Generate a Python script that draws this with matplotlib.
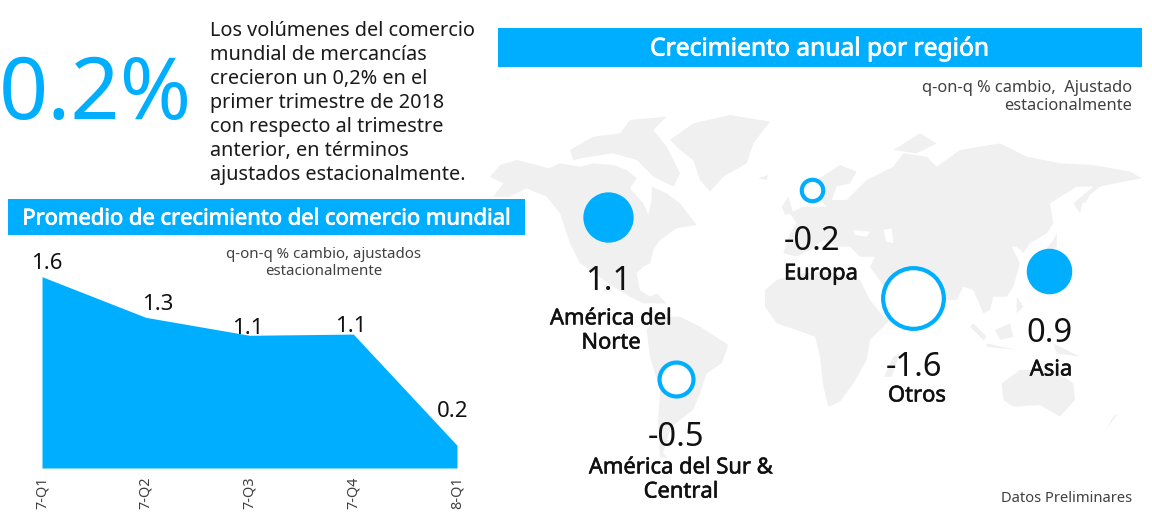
import matplotlib
matplotlib.use("Agg")
import matplotlib.pyplot as plt
import matplotlib.patheffects as pe
from matplotlib.patches import Polygon, Rectangle

plt.rcParams['font.family'] = ['Noto Sans', 'DejaVu Sans']

AZUL = '#00aeff'
GRIS_MAPA = '#f0f0f0'

# Serie trimestral
trimestres = ['7-Q1', '7-Q2', '7-Q3', '7-Q4', '8-Q1']
crecimiento = [1.6, 1.26, 1.11, 1.12, 0.19]
etiquetas = ['1.6', '1.3', '1.1', '1.1', '0.2']
desfase_etiquetas = [(5, 13), (12, 13), (-2, 7), (-2, 8), (-4, 34)]

# Regiones
regiones = ['América del\nNorte', 'Europa', 'Otros', 'Asia', 'América del Sur &\nCentral']
valores_region = [1.1, -0.2, -1.6, 0.9, -0.5]
x_region = [608, 812, 913, 1049, 676]
y_region = [217, 190, 298, 271, 379]
x_valor = [608, 812, 914, 1049, 676]
y_valor = [282, 242, 368, 334, 437]
x_nombre = [611, 821, 917, 1051, 681]
y_nombre = [331, 274, 396, 370, 480]

# Contornos aproximados del mapa de fondo, leidos de dos recortes a 3x
oeste = [
    [(30,230),(60,195),(110,180),(170,195),(205,205),(240,190),(300,200),(340,190),(400,195),(440,210),(470,235),(450,265),(490,310),(505,345),(515,300),(515,260),(560,280),(600,310),(650,375),(620,380),(590,385),(540,420),(520,450),(510,490),(490,500),(470,520),(480,570),(510,590),(530,580),(560,610),(530,610),(490,610),(450,590),(400,560),(330,510),(300,490),(270,430),(260,400),(240,340),(200,290),(140,265),(90,290),(40,290),(70,250)],
    [(270,150),(340,110),(420,100),(450,60),(560,50),(520,90),(560,140),(600,220),(580,260),(520,230),(470,180),(400,160),(330,170),(280,180)],
    [(570,120),(640,70),(750,45),(870,65),(820,130),(800,190),(730,230),(690,275),(660,240),(640,180),(600,150)],
    [(500,690),(530,650),(600,650),(660,680),(745,735),(725,790),(680,820),(660,880),(639,930),(573,981),(549,1059),(564,1074),(540,1071),(534,969),(540,870),(510,771)],
]
este = [
    [(15,570),(50,540),(120,520),(200,515),(260,530),(300,540),(330,600),(370,650),(400,650),(350,700),(330,720),(320,780),(280,850),(240,905),(205,920),(190,860),(180,770),(165,710),(110,690),(50,670),(15,620)],
    [(70,460),(90,400),(110,370),(90,340),(130,320),(200,320),(180,300),(170,240),(240,195),(290,215),(270,250),(230,260),(215,300),(260,300),(320,240),(400,200),(430,160),(500,170),(530,200),(600,150),(720,130),(800,170),(900,190),(1000,195),(1110,215),(1145,235),(1090,245),(1020,260),(970,300),(960,340),(940,310),(1000,260),(950,260),(870,310),(880,370),(860,400),(810,430),(790,460),(770,440),(755,440),(780,490),(760,560),(740,590),(700,590),(690,630),(670,640),(640,570),(610,560),(590,600),(555,600),(520,530),(470,540),(400,600),(330,500),(345,470),(300,470),(270,440),(230,440),(190,420),(150,450),(110,470)],
    [(65,320),(85,290),(100,340),(75,345)],
    [(-5,235),(25,225),(20,240)],
    [(725,850),(780,810),(880,810),(940,850),(945,900),(900,950),(840,915),(760,920),(730,900)],
    [(640,670),(680,710),(670,720),(630,680)],
    [(705,690),(750,670),(760,710),(720,720)],
    [(680,730),(770,750),(680,740)],
    [(880,730),(960,770),(890,760)],
    [(770,590),(790,620),(770,640)],
    [(840,470),(880,420),(890,400),(890,440),(860,480)],
    [(960,300),(1005,260),(975,310)],
    [(400,770),(420,760),(395,830),(372,830)],
    [(1075,940),(1040,985),(1060,950)],
    [(400,150),(480,100),(530,130),(470,160)],
]
mar_caspio = [(370,390),(395,385),(400,430),(380,425)]
mar_negro = [(280,390),(330,395),(320,410),(285,405)]

fig = plt.figure(figsize=(11.52, 5.15), dpi=100)

# Lienzo en pixeles para textos, mapa y circulos
lienzo = fig.add_axes([0, 0, 1, 1], zorder=1)
lienzo.set_xlim(0, 1152)
lienzo.set_ylim(515, 0)
lienzo.axis('off')

for contorno in oeste:
    puntos = [(480 + x / 3, 100 + y / 3) for x, y in contorno]
    lienzo.add_patch(Polygon(puntos, closed=True, facecolor=GRIS_MAPA, edgecolor='none', zorder=1))
for contorno in este:
    puntos = [(760 + x / 3, 100 + y / 3) for x, y in contorno]
    lienzo.add_patch(Polygon(puntos, closed=True, facecolor=GRIS_MAPA, edgecolor='none', zorder=1))
for contorno in [mar_caspio, mar_negro]:
    puntos = [(760 + x / 3, 100 + y / 3) for x, y in contorno]
    lienzo.add_patch(Polygon(puntos, closed=True, facecolor='white', edgecolor='none', zorder=1.5))

# Bandas de titulo
lienzo.add_patch(Rectangle((498, 28), 644, 39, facecolor=AZUL, edgecolor='none', zorder=2))
lienzo.add_patch(Rectangle((8, 199), 517, 36, facecolor=AZUL, edgecolor='none', zorder=2))
grueso = [pe.withStroke(linewidth=0.6, foreground='white')]
lienzo.text(820, 49, 'Crecimiento anual por región', color='white', fontsize=17.7,
            ha='center', va='center', zorder=3, path_effects=grueso)
lienzo.text(267, 219, 'Promedio de crecimiento del comercio mundial', color='white', fontsize=15.8,
            ha='center', va='center', zorder=3, path_effects=grueso)

lienzo.text(95, 97, '0.2%', color=AZUL, fontsize=62, fontweight='light', ha='center', va='center', zorder=3)
lienzo.text(210, 103, 'Los volúmenes del comercio\nmundial de mercancías\ncrecieron un 0,2% en el\n'
            'primer trimestre de 2018\ncon respecto al trimestre\nanterior, en términos\n'
            'ajustados estacionalmente.', color='#1a1a1a', fontsize=14.3, ha='left', va='center',
            linespacing=1.27, zorder=3)
lienzo.text(324, 263, 'q-on-q % cambio, ajustados\nestacionalmente', color='#404040', fontsize=10.8,
            ha='center', va='center', linespacing=1.2, zorder=3)
lienzo.text(1132, 97, 'q-on-q % cambio,  Ajustado\nestacionalmente', color='#404040', fontsize=11.8,
            ha='right', va='center', linespacing=1.1, zorder=3)
lienzo.text(1132, 499, 'Datos Preliminares', color='#404040', fontsize=10.6, ha='right', va='center', zorder=3)

# Circulos: area proporcional al valor, huecos si es negativo
for x, y, v in zip(x_region, y_region, valores_region):
    relleno = AZUL if v > 0 else 'white'
    lienzo.scatter(x, y, s=1194 * abs(v), facecolor=relleno, edgecolor=AZUL, linewidth=3 if v < 0 else 0, zorder=4)

for x, y, v in zip(x_valor, y_valor, valores_region):
    lienzo.text(x, y, str(v), color='#111111', fontsize=23.5, ha='center', va='center', zorder=5)
for x, y, nombre in zip(x_nombre, y_nombre, regiones):
    lienzo.text(x, y, nombre, color='#111111', fontsize=15.8, ha='center', va='center', linespacing=1.2, zorder=5,
                path_effects=[pe.withStroke(linewidth=0.4, foreground='#111111')])

# Grafico de area
ax = fig.add_axes([42 / 1152, 47 / 515, 415 / 1152, 191.3 / 515], zorder=0)
posiciones = list(range(len(trimestres)))
ax.fill_between(posiciones, crecimiento, 0, color=AZUL, linewidth=0)
ax.set_xlim(0, 4)
ax.set_ylim(0, 1.6)
for s in ax.spines.values():
    s.set_visible(False)
ax.set_yticks([])
ax.set_xticks(posiciones)
ax.set_xticklabels(trimestres, rotation=90, fontsize=10.4, color='#404040', va='top')
ax.tick_params(axis='x', length=0, pad=6)
for i, (txt, d) in enumerate(zip(etiquetas, desfase_etiquetas)):
    ax.annotate(txt, (i, crecimiento[i]), xytext=d, textcoords='offset pixels', ha='center', va='center',
                fontsize=16, color='#111111', annotation_clip=False)

fig.savefig('out.png', dpi=100)
